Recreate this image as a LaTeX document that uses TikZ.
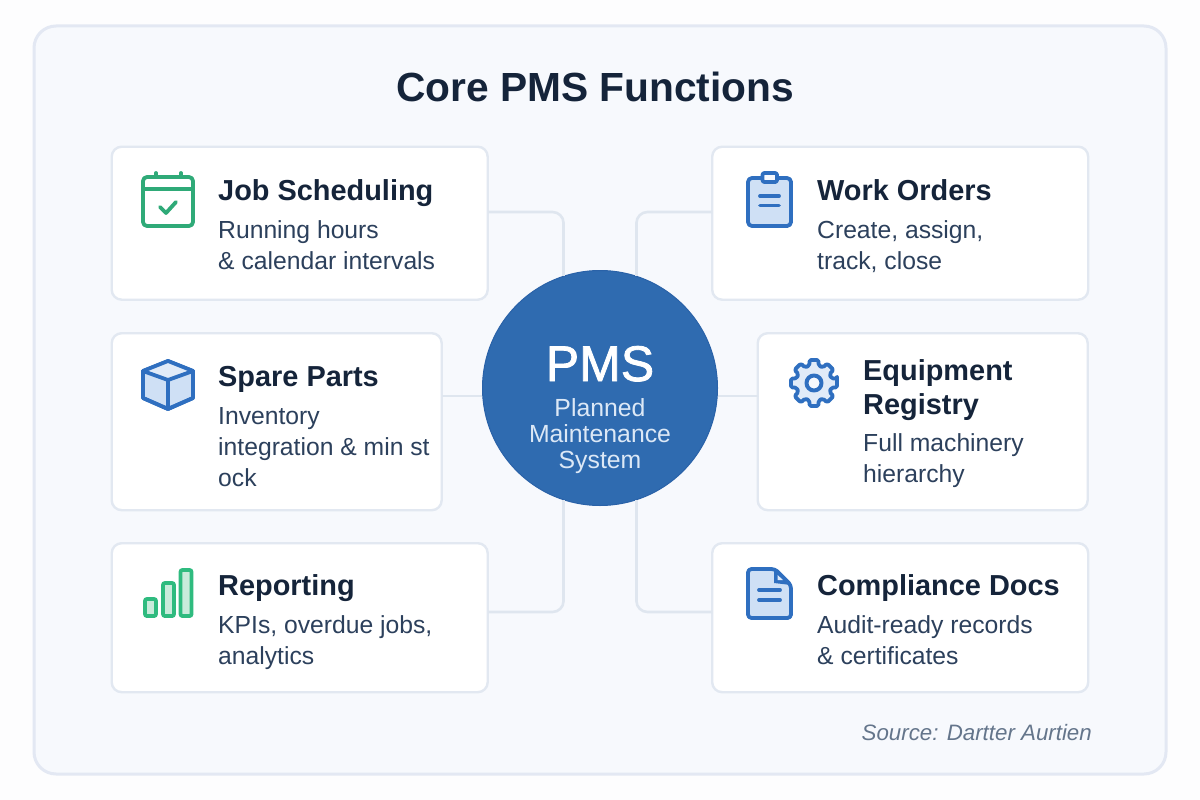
\documentclass[tikz,border=0pt]{standalone}
\usepackage{fontspec}
\setmainfont{Liberation Sans}
\definecolor{pagebg}{HTML}{FDFDFE}
\definecolor{panelbg}{HTML}{F7F9FD}
\definecolor{panelln}{HTML}{E3E8F3}
\definecolor{cardln}{HTML}{E2E8F1}
\definecolor{connln}{HTML}{DFE6EF}
\definecolor{hubfill}{HTML}{2F6BB0}
\definecolor{hubln}{HTML}{2A62A8}
\definecolor{hubtxt}{HTML}{DCE8F6}
\definecolor{titletxt}{HTML}{15243A}
\definecolor{subtxt}{HTML}{2C405C}
\definecolor{srctxt}{HTML}{64758B}
\definecolor{icoblue}{HTML}{2F6FC0}
\definecolor{icolight}{HTML}{CFE0F5}
\definecolor{icopale}{HTML}{E1EBF8}
\definecolor{icogreen}{HTML}{2FAA78}
\definecolor{icobar}{HTML}{2FBB7F}
\definecolor{icobarl}{HTML}{C9EBDB}
\newfontfamily\hubfont[FakeBold=1.6]{Liberation Sans}
\tikzset{
  cardbox/.style={draw=cardln,line width=2.4pt,fill=white,rounded corners=10pt,inner sep=0pt,anchor=north west},
  conn/.style={draw=connln,line width=2.6pt,rounded corners=11pt},
  cardtitle/.style={anchor=base west,inner sep=0pt,text=titletxt,font=\fontsize{28.9}{28.9}\selectfont\bfseries},
  cardsub/.style={anchor=base west,inner sep=0pt,text=subtxt,font=\fontsize{24.7}{24.7}\selectfont},
  hubsub/.style={anchor=base,inner sep=0pt,text=hubtxt,font=\fontsize{24.8}{24.8}\selectfont},
  icoline/.style={draw=icoblue,line width=3.8pt,line join=round,line cap=round},
  icogrn/.style={draw=icogreen,line width=3.8pt,line join=round,line cap=round},
}
\begin{document}
\begin{tikzpicture}[x=1pt,y=-1pt]
\useasboundingbox (0,0) rectangle (1200,800);
\fill[pagebg] (0,0) rectangle (1200,800);
\draw[draw=panelln,line width=3pt,fill=panelbg,rounded corners=22pt] (34,26) rectangle (1166,774);
\node[anchor=base,inner sep=0pt,text=titletxt,font=\fontsize{40.7}{40.7}\selectfont\bfseries] (title) at (595,102) {Core PMS Functions};

% cards
\node[cardbox,minimum width=376pt,minimum height=153pt] (job) at (110.5,145.5) {};
\node[cardbox,minimum width=330pt,minimum height=177pt] (spare) at (110.5,332) {};
\node[cardbox,minimum width=376pt,minimum height=149pt] (rep) at (110.5,542) {};
\node[cardbox,minimum width=376pt,minimum height=153pt] (work) at (711,145.5) {};
\node[cardbox,minimum width=330pt,minimum height=177pt] (equip) at (756.5,332) {};
\node[cardbox,minimum width=376pt,minimum height=149pt] (comp) at (711,542) {};

% hub
\node[circle,draw=hubln,line width=1pt,fill=hubfill,minimum size=235pt,inner sep=0pt] (pms) at (600,388) {};

% connector ends on the cards
\coordinate (jobout) at (488,212);
\coordinate (repout) at (488,612);
\coordinate (workout) at (712,212);
\coordinate (compout) at (712,612);
\coordinate (spareout) at (442,396);
\coordinate (equipout) at (758,396);
\draw[conn] (jobout) -| (pms.108);
\draw[conn] (repout) -| (pms.252);
\draw[conn] (workout) -| (pms.72);
\draw[conn] (compout) -| (pms.288);
\draw[conn] (spareout) -- (spareout -| pms.west);
\draw[conn] (equipout) -- (equipout -| pms.east);

% hub text
\node[anchor=base,inner sep=0pt,text=white,font=\fontsize{50}{50}\selectfont\hubfont] (pmsname) at (600,381) {PMS};
\node[hubsub] (hub1) at (600,416) {Planned};
\node[hubsub] (hub2) at (600,442) {Maintenance};
\node[hubsub] (hub3) at (600,468) {System};

% card text
\node[cardtitle] (t1) at (218,200) {Job Scheduling};
\node[cardsub] (s1a) at (218,238) {Running hours};
\node[cardsub] (s1b) at (218,269) {\& calendar intervals};
\node[cardtitle] (t2) at (218,386) {Spare Parts};
\node[cardsub] (s2a) at (218,424) {Inventory};
\node[cardsub] (s2b) at (218,455) {integration \& min st};
\node[cardsub] (s2c) at (218,486) {ock};
\node[cardtitle] (t3) at (218,595) {Reporting};
\node[cardsub] (s3a) at (218,633) {KPIs, overdue jobs,};
\node[cardsub] (s3b) at (218,664) {analytics};
\node[cardtitle] (t4) at (817,200) {Work Orders};
\node[cardsub] (s4a) at (817,238) {Create, assign,};
\node[cardsub] (s4b) at (817,269) {track, close};
\node[cardtitle] (t5a) at (863,380) {Equipment};
\node[cardtitle] (t5b) at (863,414) {Registry};
\node[cardsub] (s5a) at (863,451) {Full machinery};
\node[cardsub] (s5b) at (863,482) {hierarchy};
\node[cardtitle] (t6) at (817,595) {Compliance Docs};
\node[cardsub] (s6a) at (817,633) {Audit-ready records};
\node[cardsub] (s6b) at (817,664) {\& certificates};
\node[anchor=base east,inner sep=0pt,text=srctxt,font=\fontsize{22.3}{22.3}\selectfont\itshape] (src) at (1092,740) {Source: Dartter Aurtien};

% calendar icon
\draw[icogrn,fill=white,rounded corners=4pt] (143,177) rectangle (193,226);
\draw[icogrn] (143,189) -- (193,189);
\draw[icogrn] (156,173) -- (156,177) (181,173) -- (181,177);
\draw[icogrn] (160,207) -- (166,213) -- (176,202);

% cube icon
\draw[icoline,fill=icolight] (168,361) -- (193,371) -- (193,398) -- (168,409) -- (143,398) -- (143,371) -- cycle;
\fill[icopale] (168,361) -- (193,371) -- (168,380) -- (143,371) -- cycle;
\draw[icoline] (143,371) -- (168,380) -- (193,371) (168,380) -- (168,409);
\draw[icoline] (168,361) -- (193,371) -- (193,398) -- (168,409) -- (143,398) -- (143,371) -- cycle;

% bars icon
\foreach \xa/\ya in {145/599,163/583,180.5/570}{
  \draw[draw=icobar,line width=3.8pt,fill=icobarl,rounded corners=2pt] (\xa,\ya) rectangle ++(11,616-\ya);
}

% clipboard icon
\draw[icoline,fill=icolight,rounded corners=4pt] (748,178) rectangle (791,226);
\draw[icoline,fill=panelbg,rounded corners=2pt] (762.5,173) rectangle (777,182);
\draw[icoline] (760,196) -- (779,196) (760,205.5) -- (779,205.5);

% gear icon
\begin{scope}[shift={(814,383)}]
\draw[icoline,fill=icopale,rounded corners=1.6pt] (-11:23.5)
  \foreach \a in {0,45,...,315}{ -- (\a-11:23.5) -- (\a+11:23.5) -- (\a+15:18) -- (\a+30:18) } -- cycle;
\draw[icoline,fill=panelbg,line width=4pt] (0,0) circle (7.5);
\end{scope}

% document icon
\draw[icoline,fill=icolight,rounded corners=3.5pt] (748,569) -- (775,569) -- (791,585) -- (791,618) -- (748,618) -- cycle;
\fill[icoblue] (774,569) -- (791,585) -- (774,583) -- cycle;
\fill[icopale] (777.5,575) -- (777.5,580) -- (783,580) -- cycle;
\draw[icoline] (759,590) -- (780,590) (759,600) -- (780,600);
\end{tikzpicture}
\end{document}
